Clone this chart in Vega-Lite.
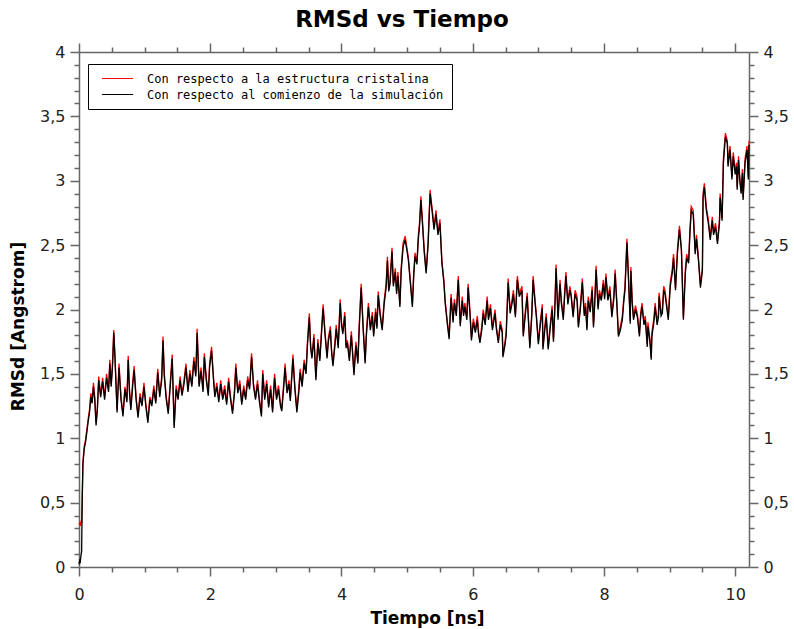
{
"$schema": "https://vega.github.io/schema/vega-lite/v6.json",
"width": 670, "height": 515,
"autosize": {"type": "none"},
"padding": {"left": 79, "top": 52, "right": 45, "bottom": 62},
"background": "white",
"title": {"text": "RMSd vs Tiempo", "font": "DejaVu Sans", "fontSize": 23, "fontWeight": "bold", "color": "black", "offset": 10, "dx": -12},
"config": {
  "view": {"stroke": null},
  "axis": {"domainColor": "#666666", "domainWidth": 1.5, "tickColor": "#666666", "tickWidth": 1.5, "labelFont": "DejaVu Sans", "labelFontSize": 16, "labelColor": "#222222", "titleFont": "DejaVu Sans", "titleFontSize": 17, "titleFontWeight": "bold", "titleColor": "black", "grid": false, "labelOverlap": false, "labelBound": false, "labelFlush": false}
},
"data": {"values": [
{"t":0.00,"b":0.02,"r":0.33},{"t":0.01,"b":0.05,"r":0.34},{"t":0.02,"b":0.04,"r":0.32},{"t":0.03,"b":0.09,"r":0.35},{"t":0.04,"b":0.12,"r":0.34},
{"t":0.05,"b":0.55,"r":0.57},{"t":0.06,"b":0.80,"r":0.82},{"t":0.08,"b":0.92,"r":0.94},{"t":0.10,"b":0.97,"r":0.99},{"t":0.12,"b":1.05,"r":1.07},
{"t":0.14,"b":1.13,"r":1.15},{"t":0.16,"b":1.20,"r":1.22},{"t":0.18,"b":1.32,"r":1.35},{"t":0.20,"b":1.27,"r":1.29},{"t":0.22,"b":1.40,"r":1.43},
{"t":0.24,"b":1.30,"r":1.32},{"t":0.26,"b":1.10,"r":1.12},{"t":0.28,"b":1.22,"r":1.24},{"t":0.30,"b":1.45,"r":1.48},{"t":0.33,"b":1.32,"r":1.34},
{"t":0.36,"b":1.44,"r":1.47},{"t":0.39,"b":1.30,"r":1.32},{"t":0.42,"b":1.47,"r":1.50},{"t":0.45,"b":1.36,"r":1.38},{"t":0.47,"b":1.58,"r":1.61},
{"t":0.49,"b":1.40,"r":1.42},{"t":0.51,"b":1.55,"r":1.58},{"t":0.53,"b":1.82,"r":1.84},{"t":0.55,"b":1.60,"r":1.62},{"t":0.58,"b":1.20,"r":1.22},
{"t":0.61,"b":1.55,"r":1.58},{"t":0.64,"b":1.30,"r":1.32},{"t":0.67,"b":1.17,"r":1.19},{"t":0.70,"b":1.38,"r":1.40},{"t":0.73,"b":1.28,"r":1.30},
{"t":0.75,"b":1.61,"r":1.64},{"t":0.77,"b":1.35,"r":1.37},{"t":0.79,"b":1.22,"r":1.24},{"t":0.82,"b":1.42,"r":1.45},{"t":0.84,"b":1.53,"r":1.56},
{"t":0.87,"b":1.30,"r":1.32},{"t":0.90,"b":1.16,"r":1.18},{"t":0.93,"b":1.32,"r":1.35},{"t":0.96,"b":1.25,"r":1.27},{"t":0.99,"b":1.40,"r":1.43},
{"t":1.02,"b":1.24,"r":1.26},{"t":1.05,"b":1.12,"r":1.14},{"t":1.08,"b":1.30,"r":1.32},{"t":1.11,"b":1.25,"r":1.27},{"t":1.14,"b":1.38,"r":1.41},
{"t":1.17,"b":1.27,"r":1.29},{"t":1.20,"b":1.51,"r":1.54},{"t":1.23,"b":1.32,"r":1.34},{"t":1.26,"b":1.45,"r":1.48},{"t":1.28,"b":1.76,"r":1.79},
{"t":1.30,"b":1.48,"r":1.50},{"t":1.33,"b":1.30,"r":1.32},{"t":1.36,"b":1.19,"r":1.21},{"t":1.39,"b":1.40,"r":1.43},{"t":1.42,"b":1.62,"r":1.65},
{"t":1.45,"b":1.08,"r":1.10},{"t":1.48,"b":1.38,"r":1.41},{"t":1.51,"b":1.30,"r":1.32},{"t":1.54,"b":1.45,"r":1.48},{"t":1.57,"b":1.33,"r":1.35},
{"t":1.60,"b":1.42,"r":1.45},{"t":1.63,"b":1.55,"r":1.58},{"t":1.66,"b":1.36,"r":1.38},{"t":1.69,"b":1.50,"r":1.53},{"t":1.72,"b":1.40,"r":1.42},
{"t":1.75,"b":1.60,"r":1.63},{"t":1.78,"b":1.48,"r":1.50},{"t":1.80,"b":1.82,"r":1.85},{"t":1.83,"b":1.40,"r":1.42},{"t":1.86,"b":1.52,"r":1.55},
{"t":1.89,"b":1.36,"r":1.38},{"t":1.91,"b":1.63,"r":1.66},{"t":1.94,"b":1.45,"r":1.47},{"t":1.97,"b":1.33,"r":1.35},{"t":1.99,"b":1.55,"r":1.58},
{"t":2.02,"b":1.68,"r":1.71},{"t":2.05,"b":1.45,"r":1.47},{"t":2.07,"b":1.32,"r":1.34},{"t":2.10,"b":1.40,"r":1.43},{"t":2.13,"b":1.28,"r":1.30},
{"t":2.16,"b":1.42,"r":1.45},{"t":2.19,"b":1.30,"r":1.32},{"t":2.22,"b":1.38,"r":1.41},{"t":2.25,"b":1.26,"r":1.28},{"t":2.28,"b":1.44,"r":1.47},
{"t":2.31,"b":1.30,"r":1.32},{"t":2.34,"b":1.19,"r":1.21},{"t":2.37,"b":1.35,"r":1.38},{"t":2.39,"b":1.55,"r":1.58},{"t":2.42,"b":1.35,"r":1.37},
{"t":2.45,"b":1.42,"r":1.45},{"t":2.48,"b":1.26,"r":1.28},{"t":2.51,"b":1.38,"r":1.41},{"t":2.54,"b":1.30,"r":1.32},{"t":2.57,"b":1.45,"r":1.48},
{"t":2.60,"b":1.38,"r":1.40},{"t":2.63,"b":1.63,"r":1.66},{"t":2.66,"b":1.40,"r":1.42},{"t":2.69,"b":1.30,"r":1.32},{"t":2.72,"b":1.42,"r":1.45},
{"t":2.75,"b":1.28,"r":1.30},{"t":2.78,"b":1.17,"r":1.19},{"t":2.80,"b":1.50,"r":1.53},{"t":2.83,"b":1.30,"r":1.32},{"t":2.86,"b":1.42,"r":1.45},
{"t":2.89,"b":1.24,"r":1.26},{"t":2.92,"b":1.38,"r":1.41},{"t":2.95,"b":1.20,"r":1.22},{"t":2.98,"b":1.47,"r":1.50},{"t":3.01,"b":1.30,"r":1.32},
{"t":3.04,"b":1.38,"r":1.41},{"t":3.07,"b":1.25,"r":1.27},{"t":3.09,"b":1.21,"r":1.23},{"t":3.12,"b":1.40,"r":1.43},{"t":3.14,"b":1.55,"r":1.58},
{"t":3.17,"b":1.35,"r":1.37},{"t":3.20,"b":1.42,"r":1.45},{"t":3.22,"b":1.29,"r":1.31},{"t":3.24,"b":1.45,"r":1.48},{"t":3.26,"b":1.62,"r":1.65},
{"t":3.29,"b":1.38,"r":1.40},{"t":3.32,"b":1.20,"r":1.22},{"t":3.35,"b":1.36,"r":1.39},{"t":3.37,"b":1.51,"r":1.54},{"t":3.40,"b":1.40,"r":1.42},
{"t":3.43,"b":1.58,"r":1.61},{"t":3.46,"b":1.50,"r":1.52},{"t":3.48,"b":1.71,"r":1.74},{"t":3.51,"b":1.94,"r":1.97},{"t":3.53,"b":1.70,"r":1.72},
{"t":3.55,"b":1.62,"r":1.64},{"t":3.58,"b":1.78,"r":1.81},{"t":3.61,"b":1.45,"r":1.47},{"t":3.64,"b":1.74,"r":1.77},{"t":3.67,"b":1.60,"r":1.62},
{"t":3.70,"b":1.85,"r":1.88},{"t":3.72,"b":2.01,"r":2.04},{"t":3.75,"b":1.80,"r":1.82},{"t":3.78,"b":1.62,"r":1.64},{"t":3.80,"b":1.75,"r":1.78},
{"t":3.83,"b":1.84,"r":1.87},{"t":3.85,"b":1.66,"r":1.68},{"t":3.87,"b":1.56,"r":1.58},{"t":3.90,"b":1.72,"r":1.75},{"t":3.92,"b":1.85,"r":1.88},
{"t":3.95,"b":1.70,"r":1.72},{"t":3.98,"b":2.05,"r":2.08},{"t":4.00,"b":1.88,"r":1.90},{"t":4.02,"b":1.81,"r":1.83},{"t":4.05,"b":1.95,"r":1.98},
{"t":4.07,"b":1.70,"r":1.72},{"t":4.09,"b":1.74,"r":1.76},{"t":4.12,"b":1.60,"r":1.62},{"t":4.15,"b":1.80,"r":1.83},{"t":4.17,"b":1.65,"r":1.67},
{"t":4.19,"b":1.49,"r":1.51},{"t":4.22,"b":1.72,"r":1.75},{"t":4.25,"b":1.58,"r":1.60},{"t":4.27,"b":1.85,"r":1.88},{"t":4.30,"b":2.17,"r":2.20},
{"t":4.33,"b":1.85,"r":1.87},{"t":4.36,"b":1.58,"r":1.60},{"t":4.38,"b":1.80,"r":1.83},{"t":4.41,"b":2.02,"r":2.05},{"t":4.44,"b":1.84,"r":1.86},
{"t":4.47,"b":1.95,"r":1.98},{"t":4.49,"b":1.79,"r":1.81},{"t":4.52,"b":1.98,"r":2.01},{"t":4.54,"b":1.85,"r":1.87},{"t":4.56,"b":2.11,"r":2.14},
{"t":4.59,"b":1.95,"r":1.97},{"t":4.62,"b":1.84,"r":1.86},{"t":4.65,"b":2.04,"r":2.07},{"t":4.68,"b":2.17,"r":2.20},{"t":4.70,"b":2.38,"r":2.41},
{"t":4.72,"b":2.14,"r":2.16},{"t":4.74,"b":2.20,"r":2.23},{"t":4.77,"b":2.45,"r":2.48},{"t":4.79,"b":2.18,"r":2.20},{"t":4.82,"b":2.29,"r":2.32},
{"t":4.84,"b":2.12,"r":2.14},{"t":4.86,"b":2.26,"r":2.29},{"t":4.89,"b":2.02,"r":2.04},{"t":4.91,"b":2.30,"r":2.33},{"t":4.94,"b":2.49,"r":2.52},
{"t":4.97,"b":2.54,"r":2.57},{"t":5.00,"b":2.45,"r":2.47},{"t":5.02,"b":2.38,"r":2.40},{"t":5.05,"b":2.20,"r":2.22},{"t":5.08,"b":2.02,"r":2.04},
{"t":5.10,"b":2.25,"r":2.28},{"t":5.12,"b":2.41,"r":2.44},{"t":5.15,"b":2.35,"r":2.37},{"t":5.17,"b":2.54,"r":2.57},{"t":5.19,"b":2.65,"r":2.68},
{"t":5.21,"b":2.85,"r":2.88},{"t":5.24,"b":2.62,"r":2.64},{"t":5.26,"b":2.45,"r":2.47},{"t":5.29,"b":2.28,"r":2.30},{"t":5.32,"b":2.50,"r":2.53},
{"t":5.35,"b":2.90,"r":2.93},{"t":5.38,"b":2.77,"r":2.79},{"t":5.41,"b":2.62,"r":2.64},{"t":5.44,"b":2.74,"r":2.77},{"t":5.47,"b":2.58,"r":2.60},
{"t":5.50,"b":2.67,"r":2.70},{"t":5.53,"b":2.36,"r":2.38},{"t":5.56,"b":2.21,"r":2.23},{"t":5.58,"b":2.05,"r":2.07},{"t":5.61,"b":1.90,"r":1.92},
{"t":5.64,"b":1.77,"r":1.79},{"t":5.67,"b":2.09,"r":2.12},{"t":5.70,"b":1.90,"r":1.92},{"t":5.72,"b":2.05,"r":2.08},{"t":5.75,"b":1.95,"r":1.97},
{"t":5.78,"b":2.23,"r":2.26},{"t":5.81,"b":1.87,"r":1.89},{"t":5.84,"b":2.07,"r":2.10},{"t":5.86,"b":1.95,"r":1.97},{"t":5.88,"b":2.02,"r":2.05},
{"t":5.91,"b":1.92,"r":1.94},{"t":5.93,"b":2.17,"r":2.20},{"t":5.96,"b":1.95,"r":1.97},{"t":5.98,"b":1.76,"r":1.78},{"t":6.01,"b":1.90,"r":1.93},
{"t":6.04,"b":1.82,"r":1.84},{"t":6.07,"b":1.92,"r":1.95},{"t":6.09,"b":1.80,"r":1.82},{"t":6.11,"b":1.74,"r":1.76},{"t":6.14,"b":1.85,"r":1.88},
{"t":6.16,"b":1.97,"r":2.00},{"t":6.19,"b":1.88,"r":1.90},{"t":6.22,"b":2.07,"r":2.10},{"t":6.24,"b":1.92,"r":1.94},{"t":6.27,"b":2.01,"r":2.04},
{"t":6.30,"b":1.84,"r":1.86},{"t":6.34,"b":1.97,"r":2.00},{"t":6.36,"b":1.85,"r":1.87},{"t":6.39,"b":1.74,"r":1.76},{"t":6.42,"b":1.88,"r":1.91},
{"t":6.45,"b":1.82,"r":1.84},{"t":6.46,"b":1.63,"r":1.65},{"t":6.49,"b":1.72,"r":1.74},{"t":6.51,"b":1.80,"r":1.83},{"t":6.54,"b":2.21,"r":2.24},
{"t":6.57,"b":1.97,"r":1.99},{"t":6.60,"b":2.05,"r":2.08},{"t":6.62,"b":2.12,"r":2.15},{"t":6.65,"b":1.94,"r":1.96},{"t":6.68,"b":2.23,"r":2.26},
{"t":6.71,"b":2.10,"r":2.12},{"t":6.75,"b":2.15,"r":2.18},{"t":6.77,"b":1.79,"r":1.81},{"t":6.80,"b":1.95,"r":1.98},{"t":6.83,"b":2.10,"r":2.13},
{"t":6.85,"b":1.90,"r":1.92},{"t":6.87,"b":1.70,"r":1.72},{"t":6.90,"b":1.95,"r":1.98},{"t":6.92,"b":2.23,"r":2.26},{"t":6.95,"b":2.05,"r":2.07},
{"t":6.97,"b":1.94,"r":1.96},{"t":7.00,"b":1.73,"r":1.75},{"t":7.03,"b":1.88,"r":1.91},{"t":7.06,"b":2.01,"r":2.04},{"t":7.07,"b":1.69,"r":1.71},
{"t":7.10,"b":1.85,"r":1.88},{"t":7.12,"b":1.94,"r":1.97},{"t":7.15,"b":1.69,"r":1.71},{"t":7.18,"b":1.85,"r":1.88},{"t":7.21,"b":2.00,"r":2.03},
{"t":7.23,"b":1.75,"r":1.77},{"t":7.25,"b":1.98,"r":2.01},{"t":7.27,"b":2.32,"r":2.35},{"t":7.30,"b":1.92,"r":1.94},{"t":7.33,"b":2.20,"r":2.23},
{"t":7.35,"b":2.05,"r":2.07},{"t":7.38,"b":1.92,"r":1.94},{"t":7.40,"b":2.10,"r":2.13},{"t":7.42,"b":2.26,"r":2.29},{"t":7.45,"b":2.04,"r":2.06},
{"t":7.48,"b":2.15,"r":2.18},{"t":7.50,"b":2.10,"r":2.12},{"t":7.53,"b":1.94,"r":1.96},{"t":7.56,"b":2.12,"r":2.15},{"t":7.59,"b":2.07,"r":2.10},
{"t":7.61,"b":1.86,"r":1.88},{"t":7.64,"b":2.00,"r":2.03},{"t":7.67,"b":2.21,"r":2.24},{"t":7.70,"b":1.95,"r":1.97},{"t":7.72,"b":2.02,"r":2.05},
{"t":7.74,"b":1.84,"r":1.86},{"t":7.76,"b":2.07,"r":2.10},{"t":7.79,"b":1.98,"r":2.00},{"t":7.82,"b":2.15,"r":2.18},{"t":7.84,"b":1.86,"r":1.88},
{"t":7.86,"b":2.05,"r":2.08},{"t":7.88,"b":2.31,"r":2.34},{"t":7.91,"b":2.00,"r":2.02},{"t":7.93,"b":2.12,"r":2.15},{"t":7.96,"b":2.07,"r":2.09},
{"t":7.99,"b":2.20,"r":2.23},{"t":8.01,"b":2.08,"r":2.10},{"t":8.03,"b":2.25,"r":2.28},{"t":8.06,"b":2.07,"r":2.09},{"t":8.09,"b":2.15,"r":2.18},
{"t":8.12,"b":1.94,"r":1.96},{"t":8.15,"b":2.08,"r":2.11},{"t":8.17,"b":2.28,"r":2.31},{"t":8.20,"b":2.00,"r":2.02},{"t":8.22,"b":1.79,"r":1.81},
{"t":8.25,"b":1.84,"r":1.87},{"t":8.28,"b":1.92,"r":1.95},{"t":8.30,"b":2.05,"r":2.08},{"t":8.32,"b":2.15,"r":2.18},{"t":8.35,"b":2.52,"r":2.55},
{"t":8.37,"b":2.28,"r":2.30},{"t":8.40,"b":1.89,"r":1.91},{"t":8.41,"b":2.30,"r":2.33},{"t":8.43,"b":2.05,"r":2.07},{"t":8.45,"b":1.92,"r":1.94},
{"t":8.48,"b":2.00,"r":2.03},{"t":8.51,"b":1.94,"r":1.96},{"t":8.54,"b":1.79,"r":1.81},{"t":8.56,"b":1.95,"r":1.98},{"t":8.58,"b":2.02,"r":2.05},
{"t":8.61,"b":1.88,"r":1.90},{"t":8.63,"b":1.92,"r":1.95},{"t":8.66,"b":1.71,"r":1.73},{"t":8.67,"b":1.87,"r":1.90},{"t":8.70,"b":1.75,"r":1.77},
{"t":8.72,"b":1.61,"r":1.63},{"t":8.73,"b":1.79,"r":1.82},{"t":8.76,"b":1.90,"r":1.93},{"t":8.78,"b":2.02,"r":2.05},{"t":8.81,"b":1.88,"r":1.90},
{"t":8.83,"b":1.94,"r":1.97},{"t":8.84,"b":2.10,"r":2.13},{"t":8.87,"b":1.95,"r":1.97},{"t":8.89,"b":1.97,"r":2.00},{"t":8.91,"b":2.15,"r":2.18},
{"t":8.93,"b":2.12,"r":2.15},{"t":8.96,"b":2.00,"r":2.02},{"t":8.98,"b":1.92,"r":1.94},{"t":9.01,"b":2.18,"r":2.21},{"t":9.04,"b":2.28,"r":2.31},
{"t":9.06,"b":2.40,"r":2.43},{"t":9.09,"b":2.15,"r":2.17},{"t":9.12,"b":2.44,"r":2.47},{"t":9.15,"b":2.62,"r":2.65},{"t":9.18,"b":2.46,"r":2.48},
{"t":9.21,"b":1.92,"r":1.94},{"t":9.24,"b":2.28,"r":2.31},{"t":9.26,"b":2.40,"r":2.43},{"t":9.29,"b":2.36,"r":2.38},{"t":9.31,"b":2.59,"r":2.62},
{"t":9.33,"b":2.77,"r":2.80},{"t":9.36,"b":2.74,"r":2.77},{"t":9.39,"b":2.43,"r":2.45},{"t":9.41,"b":2.55,"r":2.58},{"t":9.44,"b":2.38,"r":2.40},
{"t":9.47,"b":2.17,"r":2.19},{"t":9.50,"b":2.30,"r":2.33},{"t":9.51,"b":2.87,"r":2.90},{"t":9.53,"b":2.95,"r":2.98},{"t":9.56,"b":2.77,"r":2.79},
{"t":9.59,"b":2.67,"r":2.70},{"t":9.62,"b":2.54,"r":2.56},{"t":9.65,"b":2.69,"r":2.72},{"t":9.67,"b":2.58,"r":2.60},{"t":9.70,"b":2.64,"r":2.67},
{"t":9.73,"b":2.51,"r":2.53},{"t":9.76,"b":2.67,"r":2.70},{"t":9.77,"b":2.87,"r":2.90},{"t":9.80,"b":2.69,"r":2.71},{"t":9.82,"b":3.14,"r":3.17},
{"t":9.85,"b":3.34,"r":3.37},{"t":9.88,"b":3.29,"r":3.31},{"t":9.89,"b":3.11,"r":3.13},{"t":9.92,"b":3.24,"r":3.27},{"t":9.95,"b":3.01,"r":3.03},
{"t":9.97,"b":3.19,"r":3.22},{"t":10.00,"b":3.05,"r":3.07},{"t":10.02,"b":3.11,"r":3.14},{"t":10.03,"b":2.93,"r":2.95},{"t":10.05,"b":3.16,"r":3.19},
{"t":10.07,"b":3.00,"r":3.02},{"t":10.09,"b":2.90,"r":2.92},{"t":10.11,"b":3.06,"r":3.09},{"t":10.12,"b":2.85,"r":2.87},{"t":10.15,"b":3.14,"r":3.17},
{"t":10.18,"b":3.24,"r":3.27},{"t":10.20,"b":3.01,"r":3.03},{"t":10.21,"b":3.28,"r":3.31}
]},
"layer": [
  {
    "mark": {"type": "line", "strokeWidth": 1.3, "color": "#ff0000"},
    "encoding": {
      "x": {"field": "t", "type": "quantitative", "scale": {"domain": [0, 10.21], "nice": false, "zero": false},
        "axis": {"orient": "bottom", "title": "Tiempo [ns]", "titlePadding": 8, "titleX": 348, "titleFontSize": 17,
          "values": [0,0.5,1,1.5,2,2.5,3,3.5,4,4.5,5,5.5,6,6.5,7,7.5,8,8.5,9,9.5,10],
          "tickSize": {"condition": {"test": "datum.value % 2 === 0", "value": 9}, "value": 5},
          "labelPadding": 10,
          "labelExpr": "datum.value % 2 === 0 ? format(datum.value, 'd') : ''"}},
      "y": {"field": "r", "type": "quantitative", "scale": {"domain": [0, 4], "nice": false},
        "axis": {"orient": "left", "title": "RMSd [Angstrom]", "titlePadding": 12, "titleY": 274,
          "values": [0,0.1,0.2,0.3,0.4,0.5,0.6,0.7,0.8,0.9,1,1.1,1.2,1.3,1.4,1.5,1.6,1.7,1.8,1.9,2,2.1,2.2,2.3,2.4,2.5,2.6,2.7,2.8,2.9,3,3.1,3.2,3.3,3.4,3.5,3.6,3.7,3.8,3.9,4],
          "tickSize": {"condition": {"test": "abs(datum.value*2 - round(datum.value*2)) < 0.001", "value": 9}, "value": 5},
          "labelPadding": 5,
          "labelExpr": "abs(datum.value*2 - round(datum.value*2)) < 0.001 ? replace(format(datum.value, '.1~f'), '.', ',') : ''"}},
      "color": {"datum": "Con respecto a la estructura cristalina",
        "scale": {"domain": ["Con respecto a la estructura cristalina", "Con respecto al comienzo de la simulación"], "range": ["#ff0000", "#000000"]},
        "legend": {"orient": "none", "legendX": 9, "legendY": 12, "title": null, "symbolType": "M-2.6,0L2.6,0", "symbolStrokeWidth": 1, "symbolSize": 144,
          "labelFont": "DejaVu Sans Mono", "labelFontSize": 12, "labelColor": "black", "labelLimit": 600, "strokeColor": "black", "fillColor": "white",
          "padding": 8, "rowPadding": 3, "labelOffset": 23, "symbolOffset": 15}}
    }
  },
  {
    "mark": {"type": "line", "strokeWidth": 1.3, "color": "#000000"},
    "encoding": {
      "x": {"field": "t", "type": "quantitative",
        "axis": {"orient": "top", "title": null, "labels": false,
          "values": [0,0.5,1,1.5,2,2.5,3,3.5,4,4.5,5,5.5,6,6.5,7,7.5,8,8.5,9,9.5,10],
          "tickSize": {"condition": {"test": "datum.value % 2 === 0", "value": 9}, "value": 5}}},
      "y": {"field": "b", "type": "quantitative",
        "axis": {"orient": "right", "title": null,
          "values": [0,0.1,0.2,0.3,0.4,0.5,0.6,0.7,0.8,0.9,1,1.1,1.2,1.3,1.4,1.5,1.6,1.7,1.8,1.9,2,2.1,2.2,2.3,2.4,2.5,2.6,2.7,2.8,2.9,3,3.1,3.2,3.3,3.4,3.5,3.6,3.7,3.8,3.9,4],
          "tickSize": {"condition": {"test": "abs(datum.value*2 - round(datum.value*2)) < 0.001", "value": 9}, "value": 5},
          "labelPadding": 5,
          "labelExpr": "abs(datum.value*2 - round(datum.value*2)) < 0.001 ? replace(format(datum.value, '.1~f'), '.', ',') : ''"}},
      "color": {"datum": "Con respecto al comienzo de la simulación"}
    }
  }
],
"resolve": {"axis": {"x": "independent", "y": "independent"}}
}
